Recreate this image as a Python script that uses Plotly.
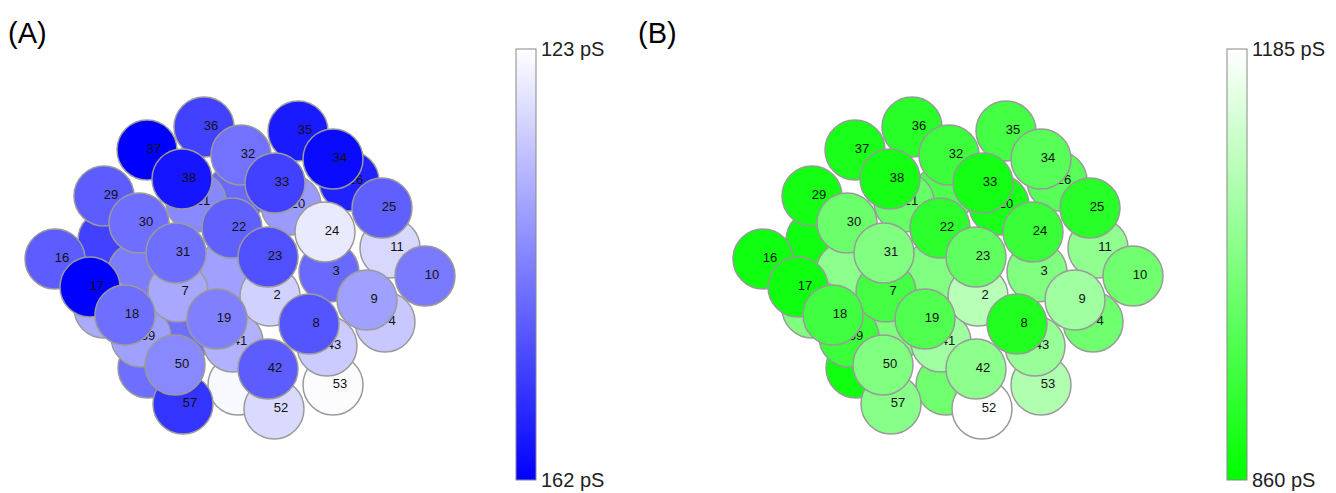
import plotly.graph_objects as go

# ---- data (draw order matters: later cells lie on top) ----
labels = ["", "", "", "", "", "", "", "",
          "21", "20", "26", "39", "41", "53", "43", "4", "11", "57", "52",
          "2", "7", "3", "16", "36", "35", "37", "29", "32", "22", "30",
          "38", "33", "34", "24", "25", "23", "31", "10", "9", "17", "18",
          "19", "8", "42", "50"]
cell_x = [108, 138, 148, 238, 225, 104, 185, 235,
          196, 291, 349, 141, 233, 333, 327, 385, 390, 183, 274,
          270, 178, 329, 55, 204, 298, 147, 104, 241, 232, 139,
          182, 275, 333, 325, 382, 268, 176, 425, 367, 90, 125,
          217, 309, 268, 175]
cell_y = [240, 272, 368, 385, 272, 308, 332, 195,
          202, 205, 181, 337, 342, 385, 346, 322, 248, 404, 409,
          296, 292, 272, 259, 127, 131, 150, 196, 155, 228, 223,
          179, 183, 159, 232, 208, 257, 253, 276, 300, 287, 315,
          319, 324, 369, 365]
# panel A conductance (pS)
cond_a = [152, 143, 145, 124, 137.5, 136, 145, 146,
          141, 138.4, 157, 137.5, 135, 123.5, 131, 131.4, 129, 154, 128.7,
          130, 136.3, 146, 148, 152, 158, 162, 148, 144.6, 147.3, 145,
          158.8, 152, 160.5, 126.2, 147.3, 149.8, 145, 143.3, 137.5, 162, 145,
          142.4, 149, 148, 141]
# panel B conductance (pS)
cond_b = [880, 1039, 880, 1002, 1023, 1023, 1020, 960,
          990, 890, 972, 936, 1064, 1084, 1054, 1002, 1044, 1033, 1185,
          1095, 947, 1023, 880, 911, 947, 893, 886, 936, 916, 998,
          886, 886, 972, 931, 911, 982, 1023, 1002, 1064, 880, 942,
          962, 901, 1039, 1023]

range_a = [123, 162]
range_b = [860, 1185]
unit = " pS"

# ---- style ----
W, H = 1336, 493
PANEL_W = 600
OFFSET_B = 708
MARKER_D = 60
LABEL_DX = 7
EDGE = "#9a9a9a"
FONT = "Liberation Sans, Arial, sans-serif"

fig = go.Figure()

def add_panel(xref, values, caxis, sign):
    for i in range(len(labels)):
        fig.add_trace(go.Scatter(
            x=[cell_x[i]], y=[cell_y[i]], mode="markers",
            marker=dict(size=MARKER_D, color=[sign * values[i]], coloraxis=caxis,
                        line=dict(color=EDGE, width=1.5), opacity=1),
            xaxis=xref, yaxis="y", hoverinfo="skip", showlegend=False))
        fig.add_trace(go.Scatter(
            x=[cell_x[i] + LABEL_DX], y=[cell_y[i]], mode="text",
            text=[labels[i]], textposition="middle center",
            textfont=dict(size=13, color="#111111", family=FONT),
            xaxis=xref, yaxis="y", hoverinfo="skip", showlegend=False))

add_panel("x", cond_a, "coloraxis", -1)
add_panel("x2", cond_b, "coloraxis2", 1)

cb_common = dict(
    lenmode="pixels", len=431, thicknessmode="pixels", thickness=20,
    y=1 - 264 / H, yanchor="middle", xanchor="left", xpad=0, ypad=0,
    outlinewidth=1, outlinecolor="#888888", ticks="", borderwidth=0,
    tickfont=dict(size=20, family=FONT, color="#222222"))

fig.update_layout(
    width=W, height=H,
    margin=dict(l=0, r=0, t=0, b=0),
    paper_bgcolor="white", plot_bgcolor="white",
    xaxis=dict(domain=[0, PANEL_W / W], range=[0, PANEL_W], visible=False, fixedrange=True),
    xaxis2=dict(domain=[OFFSET_B / W, (OFFSET_B + PANEL_W) / W], range=[0, PANEL_W],
                anchor="y", visible=False, fixedrange=True),
    yaxis=dict(domain=[0, 1], range=[H, 0], visible=False, fixedrange=True),
    coloraxis=dict(
        cmin=-range_a[1], cmax=-range_a[0],
        colorscale=[[0, "rgb(0,0,255)"], [1, "rgb(255,255,255)"]],
        colorbar=dict(x=516 / W,
                      tickvals=[-range_a[1], -range_a[0]],
                      ticktext=[f"{range_a[1]}{unit}", f"{range_a[0]}{unit}"],
                      **cb_common)),
    coloraxis2=dict(
        cmin=range_b[0], cmax=range_b[1],
        colorscale=[[0, "rgb(0,255,0)"], [1, "rgb(255,255,255)"]],
        colorbar=dict(x=1227 / W,
                      tickvals=[range_b[0], range_b[1]],
                      ticktext=[f"{range_b[0]}{unit}", f"{range_b[1]}{unit}"],
                      **cb_common)),
    annotations=[
        dict(text="(A)", x=6 / W, y=1 - 33 / H, xref="paper", yref="paper",
             xanchor="left", yanchor="middle", showarrow=False,
             font=dict(size=29, family=FONT, color="black")),
        dict(text="(B)", x=636 / W, y=1 - 33 / H, xref="paper", yref="paper",
             xanchor="left", yanchor="middle", showarrow=False,
             font=dict(size=29, family=FONT, color="black")),
    ],
)

fig.write_html("out.html")
